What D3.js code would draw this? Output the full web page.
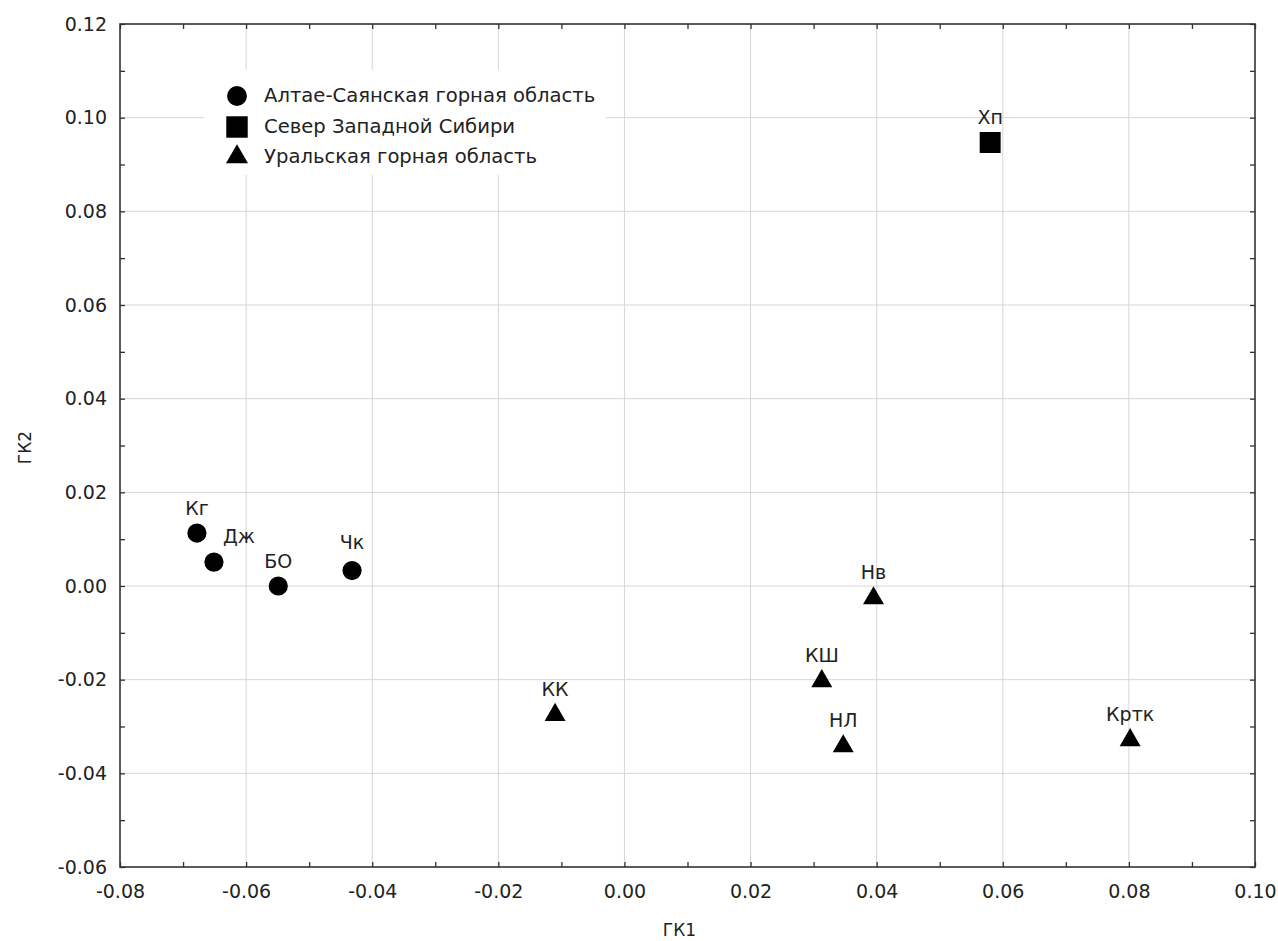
<!DOCTYPE html>
<html>
<head>
<meta charset="utf-8">
<script src="https://cdn.jsdelivr.net/npm/d3@7"></script>
<style>
  body { margin: 0; background: #fff; }
  text { font-family: "DejaVu Sans", sans-serif; fill: #222; }
</style>
</head>
<body>
<div id="chart"></div>
<script>
// data
const names  = ["Кг", "Дж", "БО", "Чк", "Хп", "Нв", "КШ", "НЛ", "Кртк", "КК"];
const gk1    = [-0.0678, -0.0651, -0.0549, -0.0432, 0.0580, 0.0395, 0.0313, 0.0347, 0.0802, -0.0110];
const gk2    = [0.0113, 0.0051, 0.0000, 0.0033, 0.0947, -0.0024, -0.0201, -0.0340, -0.0327, -0.0273];
const groups = [0, 0, 0, 0, 1, 2, 2, 2, 2, 2];
const groupNames = ["Алтае-Саянская горная область", "Север Западной Сибири", "Уральская горная область"];
const xTicks = [-0.08, -0.06, -0.04, -0.02, 0.00, 0.02, 0.04, 0.06, 0.08, 0.10];
const yTicks = [-0.06, -0.04, -0.02, 0.00, 0.02, 0.04, 0.06, 0.08, 0.10, 0.12];

const W = 1278, H = 941;
const margin = {top: 24, right: 23, bottom: 74, left: 120};
const innerW = W - margin.left - margin.right;
const innerH = H - margin.top - margin.bottom;
const FONT = "'DejaVu Sans', sans-serif";

const svg = d3.select("#chart").append("svg")
    .attr("width", W)
    .attr("height", H);

const x = d3.scaleLinear().domain([-0.08, 0.10]).range([margin.left, margin.left + innerW]);
const y = d3.scaleLinear().domain([-0.06, 0.12]).range([margin.top + innerH, margin.top]);

const fmt = v => v.toFixed(2);
const minor = arr => arr.slice(0, -1).map((v, i) => (v + arr[i + 1]) / 2);

// grid
svg.append("g").selectAll("line").data(xTicks.slice(1, -1)).enter().append("line")
    .attr("x1", d => x(d)).attr("x2", d => x(d))
    .attr("y1", margin.top).attr("y2", margin.top + innerH)
    .attr("stroke", "#d6d6d6").attr("stroke-width", 1);
svg.append("g").selectAll("line").data(yTicks.slice(1, -1)).enter().append("line")
    .attr("y1", d => y(d)).attr("y2", d => y(d))
    .attr("x1", margin.left).attr("x2", margin.left + innerW)
    .attr("stroke", "#d6d6d6").attr("stroke-width", 1);

// legend box (white, hides grid)
const legend = svg.append("g");
legend.append("rect")
    .attr("x", 204).attr("y", 70).attr("width", 402).attr("height", 105)
    .attr("fill", "#fff");

// axes, ticks point inward
const tickLen = 5;
svg.append("g").attr("transform", "translate(0," + (margin.top + innerH) + ")")
    .call(d3.axisBottom(x).tickValues(xTicks).tickFormat(fmt).tickSizeInner(-tickLen).tickSizeOuter(0).tickPadding(18))
    .call(g => g.select(".domain").remove());
svg.append("g").attr("transform", "translate(" + margin.left + ",0)")
    .call(d3.axisLeft(y).tickValues(yTicks).tickFormat(fmt).tickSizeInner(-tickLen).tickSizeOuter(0).tickPadding(13))
    .call(g => g.select(".domain").remove());
svg.append("g").attr("transform", "translate(0," + margin.top + ")")
    .call(d3.axisTop(x).tickValues(xTicks.concat(minor(xTicks))).tickFormat("").tickSizeInner(-tickLen).tickSizeOuter(0))
    .call(g => g.select(".domain").remove());
svg.append("g").attr("transform", "translate(" + (margin.left + innerW) + ",0)")
    .call(d3.axisRight(y).tickValues(yTicks.concat(minor(yTicks))).tickFormat("").tickSizeInner(-tickLen).tickSizeOuter(0))
    .call(g => g.select(".domain").remove());
svg.append("g").attr("transform", "translate(0," + (margin.top + innerH) + ")")
    .call(d3.axisBottom(x).tickValues(minor(xTicks)).tickFormat("").tickSizeInner(-tickLen).tickSizeOuter(0))
    .call(g => g.select(".domain").remove());
svg.append("g").attr("transform", "translate(" + margin.left + ",0)")
    .call(d3.axisLeft(y).tickValues(minor(yTicks)).tickFormat("").tickSizeInner(-tickLen).tickSizeOuter(0))
    .call(g => g.select(".domain").remove());

svg.selectAll(".tick line").attr("stroke", "#333").attr("stroke-width", 1.3);
svg.selectAll(".tick text").attr("font-size", "19px").attr("fill", "#222")
    .attr("font-family", FONT);

// frame
svg.append("rect")
    .attr("x", margin.left).attr("y", margin.top)
    .attr("width", innerW).attr("height", innerH)
    .attr("fill", "none").attr("stroke", "#333").attr("stroke-width", 1.6);

// axis titles
svg.append("text")
    .text("ГК1")
    .attr("x", margin.left + innerW / 2 - 8).attr("y", 936)
    .attr("font-size", "17px").attr("text-anchor", "middle");
svg.append("text")
    .text("ГК2")
    .attr("transform", "translate(31," + (margin.top + innerH / 2 + 2) + ") rotate(-90)")
    .attr("font-size", "17px").attr("text-anchor", "middle");

// markers
const symbolTypes = [d3.symbolCircle, d3.symbolSquare, d3.symbolTriangle];
const symbolSizes = [290, 440, 190];
const sym = g => d3.symbol().type(symbolTypes[g]).size(symbolSizes[g])();

svg.append("g").selectAll("path").data(names).enter().append("path")
    .attr("d", (d, i) => sym(groups[i]))
    .attr("transform", (d, i) => "translate(" + x(gk1[i]) + "," + (y(gk2[i]) + (groups[i] == 2 ? 1 : 0)) + ")")
    .attr("fill", "#000");

// point labels, one is nudged right like in the original
const labelNudge = {"Дж": [25, -19], "Чк": [0, -22]};
svg.append("g").selectAll("text").data(names).enter().append("text")
    .text(d => d)
    .attr("x", (d, i) => x(gk1[i]) + (labelNudge[d] ? labelNudge[d][0] : 0))
    .attr("y", (d, i) => y(gk2[i]) + (labelNudge[d] ? labelNudge[d][1] : -18))
    .attr("font-size", "19px")
    .attr("text-anchor", "middle");

// legend entries
const legendRows = [96, 127, 157];
groupNames.forEach(function(n, i){
    legend.append("path")
        .attr("d", d3.symbol().type(symbolTypes[i]).size(i == 2 ? 210 : symbolSizes[i] + 20)())
        .attr("transform", "translate(237," + legendRows[i] + ")")
        .attr("fill", "#000");
    legend.append("text")
        .text(n)
        .attr("x", 264).attr("y", legendRows[i])
        .attr("font-size", "19.6px")
        .attr("dominant-baseline", "middle");
});
</script>
</body>
</html>
